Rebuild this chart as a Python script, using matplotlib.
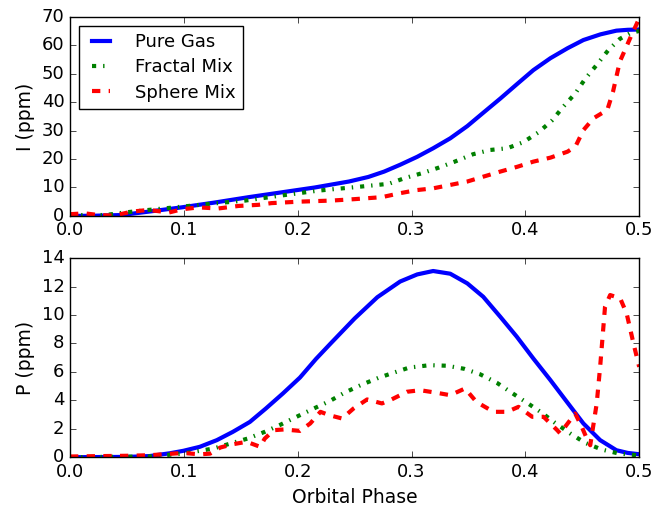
import matplotlib
matplotlib.use("Agg")
import matplotlib.pyplot as plt

plt.style.use("classic")
plt.rcParams["font.family"] = ["DejaVu Sans"]
plt.rcParams["font.size"] = 13

# intensity I (ppm) vs orbital phase
i_gas_x = [0, 0.02, 0.045, 0.069, 0.098, 0.127, 0.157, 0.186, 0.215, 0.245, 0.262,
           0.276, 0.290, 0.305, 0.319, 0.334, 0.349, 0.363, 0.378, 0.393, 0.407, 0.422,
           0.437, 0.451, 0.466, 0.480, 0.490, 0.5]
i_gas_y = [0, 0.05, 0.3, 1.5, 3.0, 4.7, 6.6, 8.3, 10.0, 12.1, 13.7,
           15.6, 18.0, 20.8, 23.8, 27.3, 31.6, 36.3, 41.3, 46.5, 51.3, 55.5,
           59.0, 61.9, 63.9, 65.2, 65.5, 65.6]

i_frac_x = [0, 0.031, 0.048, 0.069, 0.092, 0.1215, 0.154, 0.186, 0.218, 0.250,
            0.280, 0.294, 0.309, 0.324, 0.338, 0.354, 0.369, 0.384, 0.398, 0.4115,
            0.423, 0.4335, 0.444, 0.4525, 0.463, 0.473, 0.483, 0.492, 0.5]
i_frac_y = [0.3, 0.3, 1.2, 2.1, 3.0, 4.2, 5.4, 7.2, 8.9, 10.1,
            11.3, 13.3, 15.0, 17.0, 19.1, 21.7, 23.2, 23.8, 25.9, 29.4,
            33.4, 38.5, 43.2, 48.2, 53.3, 58.4, 62.3, 64.3, 65.1]

i_sph_x = [0, 0.013, 0.025, 0.039, 0.054, 0.069, 0.087, 0.098, 0.113, 0.130,
           0.148, 0.1655, 0.177, 0.2006, 0.230, 0.250, 0.274, 0.290, 0.305, 0.319,
           0.334, 0.349, 0.363, 0.378, 0.393, 0.407, 0.422, 0.437, 0.444, 0.451,
           0.460, 0.472, 0.477, 0.483, 0.492, 0.5]
i_sph_y = [0.6, 0.9, 0.3, 0.1, 1.5, 2.1, 1.2, 2.3, 3.0, 2.6,
           3.5, 3.9, 4.5, 5.0, 5.4, 5.9, 6.6, 8.0, 9.1, 9.7,
           10.9, 12.1, 13.8, 15.6, 17.3, 19.1, 20.5, 22.6, 24.4, 30.2,
           34.4, 37.3, 43.7, 54.3, 62.5, 69.5]

# polarized flux P (ppm) vs orbital phase
p_gas_x = [0, 0.05, 0.07, 0.088, 0.0996, 0.114, 0.129, 0.143, 0.158, 0.172,
           0.187, 0.202, 0.216, 0.229, 0.25, 0.27, 0.290, 0.305, 0.319, 0.334,
           0.349, 0.363, 0.378, 0.3925, 0.407, 0.422, 0.4365, 0.451, 0.4657, 0.480,
           0.49, 0.5]
p_gas_y = [0, 0.02, 0.08, 0.28, 0.45, 0.73, 1.2, 1.78, 2.48, 3.42,
           4.48, 5.6, 6.9, 8.0, 9.75, 11.25, 12.35, 12.85, 13.09, 12.9,
           12.22, 11.28, 9.87, 8.47, 6.94, 5.42, 3.89, 2.37, 1.2, 0.49,
           0.3, 0.21]

p_frac_x = [0, 0.07, 0.0996, 0.114, 0.126, 0.143, 0.156, 0.171, 0.184, 0.199,
            0.213, 0.228, 0.241, 0.256, 0.271, 0.285, 0.298, 0.316, 0.331, 0.346,
            0.360, 0.375, 0.388, 0.401, 0.4145, 0.426, 0.4394, 0.4525, 0.467, 0.482,
            0.4965, 0.5]
p_frac_y = [0, 0.05, 0.26, 0.45, 0.61, 1.01, 1.31, 1.78, 2.25, 2.84,
            3.38, 3.94, 4.53, 5.09, 5.58, 5.96, 6.3, 6.47, 6.43, 6.22,
            5.84, 5.23, 4.53, 3.85, 3.12, 2.42, 1.67, 1.01, 0.54, 0.26,
            0.15, 0.12]

p_sph_x = [0, 0.05, 0.0703, 0.0996, 0.114, 0.123, 0.132, 0.143, 0.155, 0.158,
           0.167, 0.171, 0.179, 0.188, 0.202, 0.211, 0.220, 0.228, 0.239, 0.249,
           0.261, 0.274, 0.281, 0.296, 0.3076, 0.322, 0.334, 0.347, 0.357, 0.372,
           0.384, 0.394, 0.406, 0.416, 0.428, 0.4306, 0.436, 0.4438, 0.4496, 0.454,
           0.457, 0.4627, 0.4657, 0.470, 0.4745, 0.4833, 0.489, 0.495, 0.5]
p_sph_y = [0.05, 0.1, 0.14, 0.3, 0.2, 0.25, 0.68, 0.91, 1.08, 1.0,
           0.73, 1.3, 1.9, 1.95, 1.85, 2.37, 3.19, 2.95, 2.72, 3.42,
           4.06, 3.78, 4.0, 4.6, 4.71, 4.53, 4.36, 4.83, 3.89, 3.19,
           3.19, 3.54, 2.84, 2.84, 1.9, 1.67, 2.25, 3.07, 2.13, 1.31,
           0.84, 3.78, 6.35, 10.58, 11.4, 11.17, 10.1, 8.0, 6.35]

labels = ["Pure Gas", "Fractal Mix", "Sphere Mix"]

fig = plt.figure(figsize=(6.7, 5.08), dpi=100, facecolor="white")
ax1 = fig.add_axes([0.1045, 0.575, 0.8495, 0.3915])
ax2 = fig.add_axes([0.1045, 0.100, 0.8495, 0.392])

for ax, series in [(ax1, [(i_gas_x, i_gas_y), (i_frac_x, i_frac_y), (i_sph_x, i_sph_y)]),
                   (ax2, [(p_gas_x, p_gas_y), (p_frac_x, p_frac_y), (p_sph_x, p_sph_y)])]:
    (gx, gy), (fx, fy), (sx, sy) = series
    ax.plot(gx, gy, color="b", lw=3, ls="-", label=labels[0])
    ax.plot(fx, fy, color="g", lw=3, dashes=(3, 5, 1, 5), label=labels[1])
    ax.plot(sx, sy, color="r", lw=3, dashes=(6, 6), label=labels[2])
    ax.set_xlim(0, 0.5)
    ax.set_xticks([0.0, 0.1, 0.2, 0.3, 0.4, 0.5])
    ax.tick_params(labelsize=13)
    ax.set_facecolor("white")

ax1.set_ylim(0, 70)
ax1.set_ylabel("I (ppm)", fontsize=13.5)
ax2.set_ylim(0, 14)
ax2.set_yticks(range(0, 15, 2))
ax2.set_ylabel("P (ppm)", fontsize=13.5)
ax2.set_xlabel("Orbital Phase", fontsize=13.5)

ax1.legend(loc="upper left", fontsize=13, handlelength=1.6, handletextpad=1.1,
           labelspacing=0.4, frameon=True, fancybox=False)

fig.savefig("out.png", dpi=100, facecolor="white")
